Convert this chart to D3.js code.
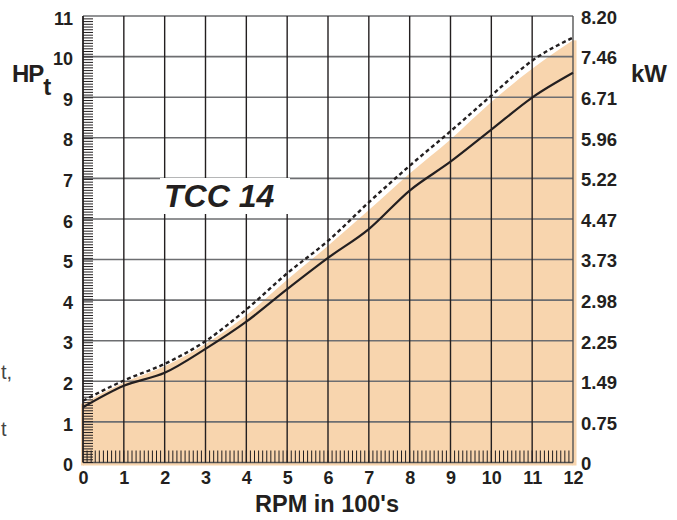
<!DOCTYPE html>
<html><head><meta charset="utf-8">
<script src="https://cdn.jsdelivr.net/npm/d3@7"></script>
<style>body{margin:0;background:#fff}svg{display:block}</style>
</head><body>
<script>
const rpm = [0,1,2,3,4,5,6,7,8,9,10,11,12];
const hpSolid  = [1.36,1.89,2.21,2.80,3.47,4.27,5.04,5.75,6.70,7.41,8.20,8.99,9.60];
const hpDashed = [1.52,2.02,2.43,2.99,3.77,4.66,5.46,6.41,7.31,8.16,9.04,9.90,10.47];
const hpFill   = [1.45,1.97,2.37,2.92,3.63,4.50,5.34,6.22,7.12,7.96,8.88,9.70,10.40];
const hpTicks = [0,1,2,3,4,5,6,7,8,9,10,11];
const kwLabels = ["0","0.75","1.49","2.25","2.98","3.73","4.47","5.22","5.96","6.71","7.46","8.20"];
const rpmTicks = [0,1,2,3,4,5,6,7,8,9,10,11,12];

const W=677,H=520;
const svg=d3.select("body").append("svg").attr("width",W).attr("height",H);
const x=d3.scaleLinear().domain([0,12]).range([83,573]);
const y=d3.scaleLinear().domain([0,11]).range([462.5,16]);
const font="'Liberation Sans', Arial, Helvetica, sans-serif";
const ink="#231f20";

// fill
const area=d3.area().x((d,i)=>x(rpm[i])).y0(y(0)+3).y1(d=>y(d)).curve(d3.curveMonotoneX);
svg.append("path").datum(hpFill).attr("d",area).attr("fill","#f8d5ae");
svg.append("rect").attr("x",x(12)-0.5).attr("y",y(hpFill[12])).attr("width",4)
  .attr("height",y(0)+3-y(hpFill[12])).attr("fill","#f8d5ae");
svg.append("rect").attr("x",x(0)-2).attr("y",y(hpFill[0])).attr("width",3)
  .attr("height",y(0)+3-y(hpFill[0])).attr("fill","#f8d5ae");

// grid
const g=svg.append("g");
g.selectAll("line.h").data(hpTicks).join("line").attr("class","h")
  .attr("x1",x(0)).attr("x2",x(12)).attr("y1",d=>y(d)).attr("y2",d=>y(d))
  .attr("stroke",d=>d===0?"#555":"#6d6e71").attr("stroke-width",1.6);
g.selectAll("line.v").data(rpmTicks).join("line").attr("class","v")
  .attr("x1",d=>x(d)).attr("x2",d=>x(d)).attr("y1",y(11)).attr("y2",y(0))
  .attr("stroke",d=>d===12?"#555":ink).attr("stroke-width",d=>d===0?1.8:1.4);

// white box behind label
svg.append("rect").attr("x",160).attr("y",178).attr("width",130).attr("height",36).attr("fill","#fff");
svg.append("text").attr("x",164).attr("y",207).text("TCC 14")
  .attr("font-family",font).attr("font-weight","bold").attr("font-style","italic")
  .attr("font-size",32).attr("fill",ink);

// minor ticks left (kW 0.05 steps) and bottom (0.1 rpm steps)
const yk=d3.scaleLinear().domain([0,8.2027]).range([462.5,16]);
const kwMinor=d3.range(0,8.2,0.05);
svg.append("g").selectAll("line").data(kwMinor).join("line")
  .attr("x1",x(0)).attr("x2",x(0)+10).attr("y1",d=>yk(d)).attr("y2",d=>yk(d))
  .attr("stroke",ink).attr("stroke-width",1);
const rpmMinor=d3.range(1,120).map(i=>i/10);
svg.append("g").selectAll("line").data(rpmMinor).join("line")
  .attr("x1",d=>x(d)).attr("x2",d=>x(d)).attr("y1",y(0)).attr("y2",y(0)-12)
  .attr("stroke",ink).attr("stroke-width",1);

// curves
const line=d3.line().x((d,i)=>x(rpm[i])).y(d=>y(d)).curve(d3.curveMonotoneX);
svg.append("path").datum(hpDashed).attr("d",line).attr("fill","none")
  .attr("stroke",ink).attr("stroke-width",2.4).attr("stroke-dasharray","4,3");
svg.append("path").datum(hpSolid).attr("d",line).attr("fill","none")
  .attr("stroke",ink).attr("stroke-width",2.2);

// axes
function styleAxis(sel,size){
  sel.select(".domain").remove();
  sel.selectAll("line").remove();
  sel.selectAll("text").attr("font-family",font).attr("font-weight","bold")
    .attr("font-size",size).attr("fill",ink);
}
svg.append("g").attr("transform",`translate(${x(0)},0)`)
  .call(d3.axisLeft(y).tickValues(hpTicks).tickSize(0).tickPadding(10).tickFormat(d3.format("d")))
  .call(s=>styleAxis(s,18)).selectAll("text").attr("dy","0.45em");
svg.append("g").attr("transform",`translate(${x(12)},0)`)
  .call(d3.axisRight(y).tickValues(hpTicks).tickSize(0).tickPadding(8).tickFormat(d=>kwLabels[d]))
  .call(s=>styleAxis(s,18.5)).selectAll("text").attr("dy","0.4em");
svg.append("g").attr("transform",`translate(0,${y(0)})`)
  .call(d3.axisBottom(x).tickValues(rpmTicks).tickSize(0).tickPadding(9).tickFormat(d3.format("d")))
  .call(s=>styleAxis(s,18));

// titles
const t1=svg.append("text").attr("x",12).attr("y",82).attr("font-family",font)
  .attr("font-weight","bold").attr("fill",ink);
t1.append("tspan").attr("font-size",24).attr("letter-spacing",-1).text("HP");
t1.append("tspan").attr("font-size",24).attr("dy",13).text("t");
svg.append("text").attr("x",631).attr("y",82).text("kW").attr("font-family",font)
  .attr("font-weight","bold").attr("font-size",24).attr("fill",ink);
svg.append("text").attr("x",327).attr("y",512).attr("text-anchor","middle").text("RPM in 100's")
  .attr("font-family",font).attr("font-weight","bold").attr("font-size",23.5).attr("fill",ink);

// cropped neighbouring text fragments
svg.append("text").attr("x",1).attr("y",379).text("t,")
  .attr("font-family",font).attr("font-size",20).attr("fill","#444");
svg.append("text").attr("x",1).attr("y",436).text("t")
  .attr("font-family",font).attr("font-size",20).attr("fill","#444");
</script>
</body></html>
